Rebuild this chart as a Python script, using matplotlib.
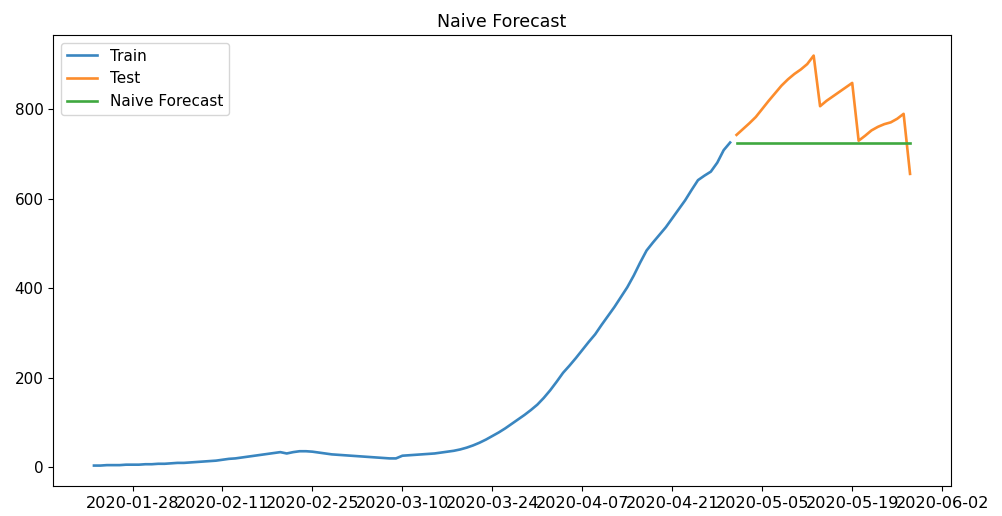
import matplotlib
matplotlib.use('Agg')
import matplotlib.pyplot as plt
import matplotlib.dates as mdates
import numpy as np
import pandas as pd

# train: 2020-01-22 .. 2020-04-30, test: 2020-05-01 .. 2020-05-28
train_dates = pd.date_range('2020-01-22', '2020-04-30', freq='D')
test_dates = pd.date_range('2020-05-01', '2020-05-28', freq='D')

train_values = [
    4, 4, 5, 5, 5, 6, 6, 6, 7, 7,
    8, 8, 9, 10, 10, 11, 12, 13, 14, 15,
    17, 19, 20, 22, 24, 26, 28, 30, 32, 34,
    31, 34, 36, 36, 35, 33, 31, 29, 28, 27,
    26, 25, 24, 23, 22, 21, 20, 20, 26, 27,
    28, 29, 30, 31, 33, 35, 37, 40, 44, 49,
    55, 62, 70, 78, 87, 97, 107, 117, 128, 140,
    155, 172, 191, 211, 227, 244, 262, 280, 297, 318,
    338, 358, 380, 402, 428, 457, 484, 502, 519, 536,
    556, 576, 596, 619, 641, 651, 660, 680, 708, 725,
]

test_values = [
    742, 755, 768, 782, 800, 818, 835, 852, 866, 878,
    888, 900, 919, 806, 818, 828, 838, 848, 858, 729,
    740, 752, 760, 766, 770, 778, 789, 655,
]

# naive forecast = last observed train value
naive_values = [train_values[-1]] * len(test_dates)

tick_dates = pd.date_range('2020-01-28', '2020-06-02', freq='14D')

fig, ax = plt.subplots(figsize=(10.03, 5.16), dpi=100)
fig.subplots_adjust(left=0.053, right=0.948, top=0.932, bottom=0.058)

ax.plot(train_dates, train_values, color='#3a86c0', lw=1.9, label='Train')
ax.plot(test_dates, test_values, color='#fc8c2c', lw=1.9, label='Test')
ax.plot(test_dates, naive_values, color='#3fa83f', lw=1.9, label='Naive Forecast')

ax.set_xticks(tick_dates)
ax.xaxis.set_major_formatter(mdates.DateFormatter('%Y-%m-%d'))
ax.set_yticks([0, 200, 400, 600, 800])
ax.tick_params(axis='x', labelsize=11.6)
ax.tick_params(axis='y', labelsize=11)

ax.set_title('Naive Forecast', fontsize=12.5)
ax.legend(loc='upper left', fontsize=11)

fig.savefig('out.png', dpi=100)
